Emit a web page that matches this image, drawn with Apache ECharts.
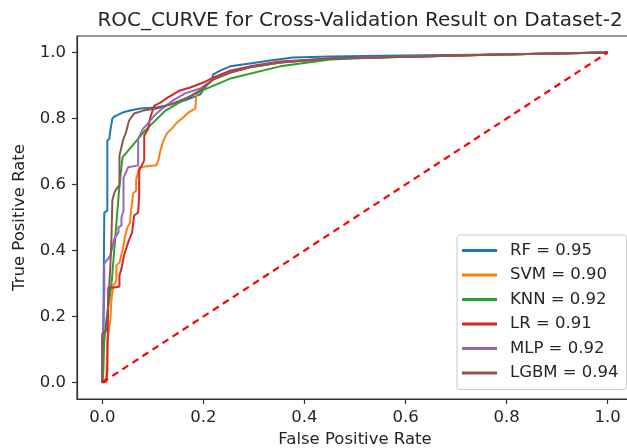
<!DOCTYPE html>
<html>
	<head>
		<meta charset="utf-8">
		<title>ROC_CURVE</title>
		<script src="https://cdn.jsdelivr.net/npm/echarts@6/dist/echarts.min.js"></script>
	</head>
	<body style="margin:0;background:#fff">
		<div id="box" style="width: 627px;height: 448px;"></div>
		<script>
			var tickValues = [0, 0.2, 0.4, 0.6, 0.8, 1.0]
			var names = ['RF = 0.95', 'SVM = 0.90', 'KNN = 0.92', 'LR = 0.91', 'MLP = 0.92', 'LGBM = 0.94']
			var colors = ['#1f77b4', '#ff7f0e', '#2ca02c', '#d62728', '#9467bd', '#8c564b']

			// [fpr, tpr]
			var rfData = [[0,0],[0,.097],[.002,.127],[.002,.148],[.004,.148],[.004,.515],[.010,.521],[.010,.733],[.014,.739],[.016,.764],[.018,.770],[.020,.800],[.024,.806],[.032,.812],[.040,.818],[.055,.824],[.075,.830],[.105,.833],[.134,.842],[.164,.855],[.194,.873],[.204,.897],[.217,.915],[.219,.933],[.233,.945],[.253,.958],[.292,.967],[.332,.976],[.377,.985],[.451,.988],[.589,.991],[.787,.994],[.905,.997],[1,1]]
			var svmData = [[0,0],[.008,.012],[.010,.127],[.016,.188],[.018,.248],[.022,.294],[.028,.309],[.028,.355],[.034,.364],[.040,.400],[.045,.442],[.049,.467],[.055,.485],[.057,.521],[.061,.573],[.067,.582],[.067,.612],[.073,.652],[.107,.658],[.111,.673],[.115,.703],[.121,.733],[.128,.755],[.138,.770],[.148,.788],[.160,.803],[.170,.818],[.184,.830],[.186,.870],[.194,.885],[.219,.918],[.253,.939],[.292,.955],[.352,.970],[.451,.982],[.628,.988],[.787,.994],[1,1]]
			var knnData = [[0,0],[.002,.030],[.004,.127],[.008,.188],[.018,.294],[.034,.597],[.040,.682],[.085,.764],[.125,.824],[.184,.876],[.253,.921],[.352,.958],[.451,.979],[.589,.988],[.787,.994],[1,1]]
			var lrData = [[0,0],[.008,.003],[.010,.036],[.012,.288],[.024,.288],[.034,.291],[.034,.324],[.038,.345],[.043,.385],[.051,.424],[.059,.455],[.063,.506],[.071,.515],[.073,.567],[.073,.642],[.083,.673],[.083,.748],[.091,.770],[.095,.803],[.103,.839],[.115,.848],[.130,.864],[.154,.885],[.174,.894],[.200,.909],[.219,.924],[.253,.945],[.292,.958],[.352,.973],[.451,.982],[.628,.988],[.787,.994],[1,1]]
			var mlpData = [[0,0],[0,.127],[.002,.148],[.004,.279],[.004,.361],[.012,.376],[.016,.385],[.024,.436],[.032,.455],[.032,.470],[.038,.476],[.038,.500],[.042,.521],[.042,.621],[.051,.652],[.071,.658],[.071,.739],[.081,.770],[.087,.779],[.103,.809],[.121,.833],[.140,.855],[.164,.876],[.194,.891],[.219,.918],[.253,.939],[.292,.955],[.352,.970],[.451,.982],[.628,.988],[.787,.994],[1,1]]
			var lgbmData = [[0,0],[0,.148],[.008,.158],[.012,.248],[.016,.355],[.018,.430],[.020,.552],[.024,.576],[.030,.591],[.034,.597],[.034,.688],[.042,.739],[.047,.758],[.053,.794],[.063,.815],[.081,.824],[.107,.830],[.134,.842],[.174,.867],[.194,.885],[.219,.918],[.253,.939],[.292,.955],[.352,.970],[.451,.982],[.628,.988],[.787,.994],[1,1]]
			var chanceData = [[0,0],[1,1]]

			var seriesData = [rfData, svmData, knnData, lrData, mlpData, lgbmData]
			var font = 'DejaVu Sans'
			var textColor = '#262626'

			var series = seriesData.map(function(d, i) {
				return {
					name: names[i],
					type: 'line',
					data: d,
					symbol: 'none',
					color: colors[i],
					lineStyle: { width: 2, color: colors[i] },
					animation: false
				}
			})
			series.push({
				name: 'chance',
				type: 'line',
				data: chanceData,
				symbol: 'none',
				lineStyle: { width: 2.2, color: '#ff0000', type: [7, 5] },
				animation: false
			})

			var mCharts = echarts.init(document.querySelector('#box'))
			var option = {
				backgroundColor: '#fff',
				textStyle: { fontFamily: font },
				title: {
					text: 'ROC_CURVE for Cross-Validation Result on Dataset-2',
					left: 355,
					top: 6,
					textAlign: 'center',
					textStyle: { fontFamily: font, fontSize: 20, fontWeight: 'normal', color: textColor }
				},
				grid: {
					left: 77, top: 36, width: 556, height: 363,
					outerBoundsMode: 'none',
					containLabel: false,
					show: true, borderColor: '#333', borderWidth: 1.2
				},
				legend: {
					data: names,
					orient: 'vertical',
					left: 457,
					top: 235,
					icon: 'rect',
					itemWidth: 35,
					itemHeight: 3,
					itemGap: 7.5,
					padding: [7, 8, 8, 5],
					backgroundColor: 'rgba(255,255,255,0.8)',
					borderColor: '#cccccc',
					borderWidth: 1,
					borderRadius: 3,
					textStyle: { fontFamily: font, fontSize: 16.5, lineHeight: 17, color: textColor, padding: [0, 0, 0, 8] }
				},
				xAxis: {
					type: 'value',
					min: -0.05,
					max: 1.05,
					name: 'False Positive Rate',
					nameLocation: 'middle',
					nameGap: 32,
					nameTextStyle: { fontFamily: font, fontSize: 16.5, color: textColor },
					splitLine: { show: false },
					axisLine: { show: true, onZero: false, lineStyle: { color: '#333', width: 1.2 } },
					axisTick: { show: true, customValues: tickValues, length: 5, lineStyle: { color: '#333', width: 1.2 } },
					axisLabel: {
						customValues: tickValues,
						margin: 10,
						fontSize: 16.5,
						color: textColor,
						formatter: function(v) { return v.toFixed(1) }
					}
				},
				yAxis: {
					type: 'value',
					min: -0.05,
					max: 1.05,
					name: 'True Positive Rate',
					nameLocation: 'middle',
					nameGap: 49,
					nameTextStyle: { fontFamily: font, fontSize: 16.5, color: textColor },
					splitLine: { show: false },
					axisLine: { show: true, onZero: false, lineStyle: { color: '#333', width: 1.2 } },
					axisTick: { show: true, customValues: tickValues, length: 5, lineStyle: { color: '#333', width: 1.2 } },
					axisLabel: {
						customValues: tickValues,
						margin: 11,
						fontSize: 16.5,
						color: textColor,
						formatter: function(v) { return v.toFixed(1) }
					}
				},
				series: series
			}
			mCharts.setOption(option)
		</script>
	</body>
</html>
